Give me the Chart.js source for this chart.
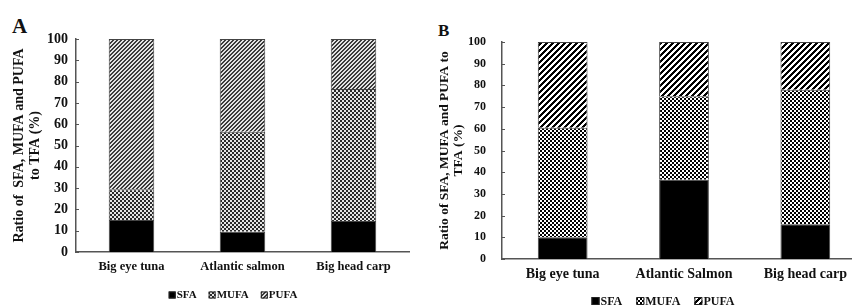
<!DOCTYPE html>
<html>
<head>
<meta charset="utf-8">
<script src="https://cdn.jsdelivr.net/npm/chart.js@4.4.1/dist/chart.umd.min.js"></script>
<style>
  body { margin: 0; width: 852px; height: 307px; overflow: hidden; position: relative; background: #fff; }
  .panel { position: absolute; top: 0; }
  .letter { position: absolute; font-family: "Liberation Serif", serif; font-weight: bold; color: #111; }
</style>
</head>
<body>
<div class="letter" style="left:12px;top:14px;font-size:21px;">A</div>
<div class="letter" style="left:438px;top:21px;font-size:17px;">B</div>
<canvas id="chartA" class="panel" style="left:0" width="426" height="307"></canvas>
<canvas id="chartB" class="panel" style="left:426px" width="440" height="307"></canvas>
<script>
// values (% of total fatty acids)
const categoriesA = ['Big eye tuna', 'Atlantic salmon', 'Big head carp'];
const categoriesB = ['Big eye tuna', 'Atlantic Salmon', 'Big head carp'];
const seriesNames = ['SFA', 'MUFA', 'PUFA'];

const sfaA = [15, 9.5, 14.5];
const mufaA = [14.5, 47, 62];
const pufaA = [70.5, 43.5, 23.5];

const sfaB = [10, 36.5, 16];
const mufaB = [50.5, 38.5, 62];
const pufaB = [39.5, 25, 22];

const yTicks = [0, 10, 20, 30, 40, 50, 60, 70, 80, 90, 100];

// small pixel tiles used as bar fills
function tile(size, isDark, dark, light) {
    const c = document.createElement('canvas');
    c.width = size; c.height = size;
    const cx = c.getContext('2d');
    for (let y = 0; y < size; y++) {
        for (let x = 0; x < size; x++) {
            cx.fillStyle = isDark(x, y) ? dark : light;
            cx.fillRect(x, y, 1, 1);
        }
    }
    return cx.createPattern(c, 'repeat');
}
const checker = (x, y) => ((Math.floor(x / 2) + Math.floor(y / 2)) % 2) === 0;
const stripes = n => (x, y) => ((x + y) % n) < n / 2;

const fillsA = [
    '#000',
    tile(4, checker, '#2a2a2a', '#e6e6e6'),
    tile(4, stripes(4), '#3a3a3a', '#e2e2e2')
];
const fillsB = [
    '#000',
    tile(4, checker, '#000', '#fff'),
    tile(6, stripes(6), '#000', '#fff')
];

// short tick marks pointing into the plot, like the original
const innerTicks = {
    id: 'innerTicks',
    afterDraw(chart) {
        const y = chart.scales.y, ctx = chart.ctx;
        ctx.save();
        ctx.strokeStyle = '#555';
        ctx.lineWidth = 1;
        yTicks.forEach(v => {
            const py = Math.round(y.getPixelForValue(v)) + 0.5;
            ctx.beginPath();
            ctx.moveTo(y.right, py);
            ctx.lineTo(y.right + 3, py);
            ctx.stroke();
        });
        ctx.restore();
    }
};

// legend drawn centred under each panel
const boxLegend = {
    id: 'boxLegend',
    afterDraw(chart, args, opts) {
        const ctx = chart.ctx;
        ctx.save();
        ctx.font = 'bold ' + opts.size + 'px "Liberation Serif"';
        ctx.textBaseline = 'middle';
        const items = chart.data.datasets.map(ds => ({
            ds, w: opts.box + 1 + ctx.measureText(ds.label).width
        }));
        const total = items.reduce((s, it) => s + it.w, 0) + opts.gap * (items.length - 1);
        let x = opts.x - total / 2;
        items.forEach(it => {
            ctx.fillStyle = it.ds.backgroundColor;
            ctx.fillRect(x, opts.y - opts.box / 2, opts.box, opts.box);
            ctx.strokeStyle = '#222';
            ctx.strokeRect(x + 0.5, opts.y - opts.box / 2 + 0.5, opts.box - 1, opts.box - 1);
            ctx.fillStyle = '#111';
            ctx.fillText(it.ds.label, x + opts.box + 1, opts.y + 0.5);
            x += it.w + opts.gap;
        });
        ctx.restore();
    }
};

function buildChart(id, p) {
    const data = [p.sfa, p.mufa, p.pufa];
    new Chart(document.getElementById(id), {
        type: 'bar',
        data: {
            labels: p.categories,
            datasets: seriesNames.map((name, i) => ({
                label: name,
                data: data[i],
                backgroundColor: p.fills[i],
                borderColor: '#444',
                borderWidth: 1,
                barPercentage: 0.41,
                categoryPercentage: 1
            }))
        },
        options: {
            responsive: false,
            animation: false,
            layout: { padding: { top: p.top, right: p.right, left: 0, bottom: 0 } },
            plugins: {
                legend: { display: false },
                tooltip: { enabled: false },
                boxLegend: p.legend
            },
            scales: {
                x: {
                    stacked: true,
                    grid: { display: false, drawTicks: false },
                    border: { color: '#555', width: 1.5 },
                    ticks: {
                        color: '#111',
                        padding: p.xPad,
                        font: { family: 'Liberation Serif', weight: 'bold', size: p.catSize }
                    },
                    afterFit: s => { s.height = p.xHeight; }
                },
                y: {
                    stacked: true,
                    min: 0,
                    max: 100,
                    afterBuildTicks: s => { s.ticks = yTicks.map(v => ({ value: v })); },
                    grid: { display: false, drawTicks: false },
                    border: { color: '#555', width: 1.5 },
                    ticks: {
                        color: '#111',
                        padding: p.yPad,
                        font: { family: 'Liberation Serif', weight: 'bold', size: p.tickSize }
                    },
                    title: {
                        display: true,
                        text: p.title,
                        color: '#111',
                        padding: { top: p.titlePad, bottom: 0 },
                        font: { family: 'Liberation Serif', weight: 'bold', size: p.titleSize, lineHeight: p.titleLh }
                    },
                    afterFit: s => { s.width = 76; }
                }
            }
        },
        plugins: [innerTicks, boxLegend]
    });
}

buildChart('chartA', {
    categories: categoriesA, sfa: sfaA, mufa: mufaA, pufa: pufaA, fills: fillsA,
    top: 39, right: 17, xHeight: 55, xPad: 7, yPad: 8,
    catSize: 12.5, tickSize: 14, titleSize: 14, titleLh: 1.15, titlePad: 11,
    title: ['Ratio of  SFA, MUFA and PUFA', 'to TFA (%)'],
    legend: { x: 233, y: 295, size: 11, box: 7, gap: 12 }
});

buildChart('chartB', {
    categories: categoriesB, sfa: sfaB, mufa: mufaB, pufa: pufaB, fills: fillsB,
    top: 42, right: 0, xHeight: 48, xPad: 7, yPad: 16,
    catSize: 14, tickSize: 12, titleSize: 13.5, titleLh: 1.04, titlePad: 11,
    title: ['Ratio of SFA, MUFA and PUFA to', 'TFA (%)'],
    legend: { x: 237, y: 301, size: 12, box: 8, gap: 14 }
});
</script>
</body>
</html>
